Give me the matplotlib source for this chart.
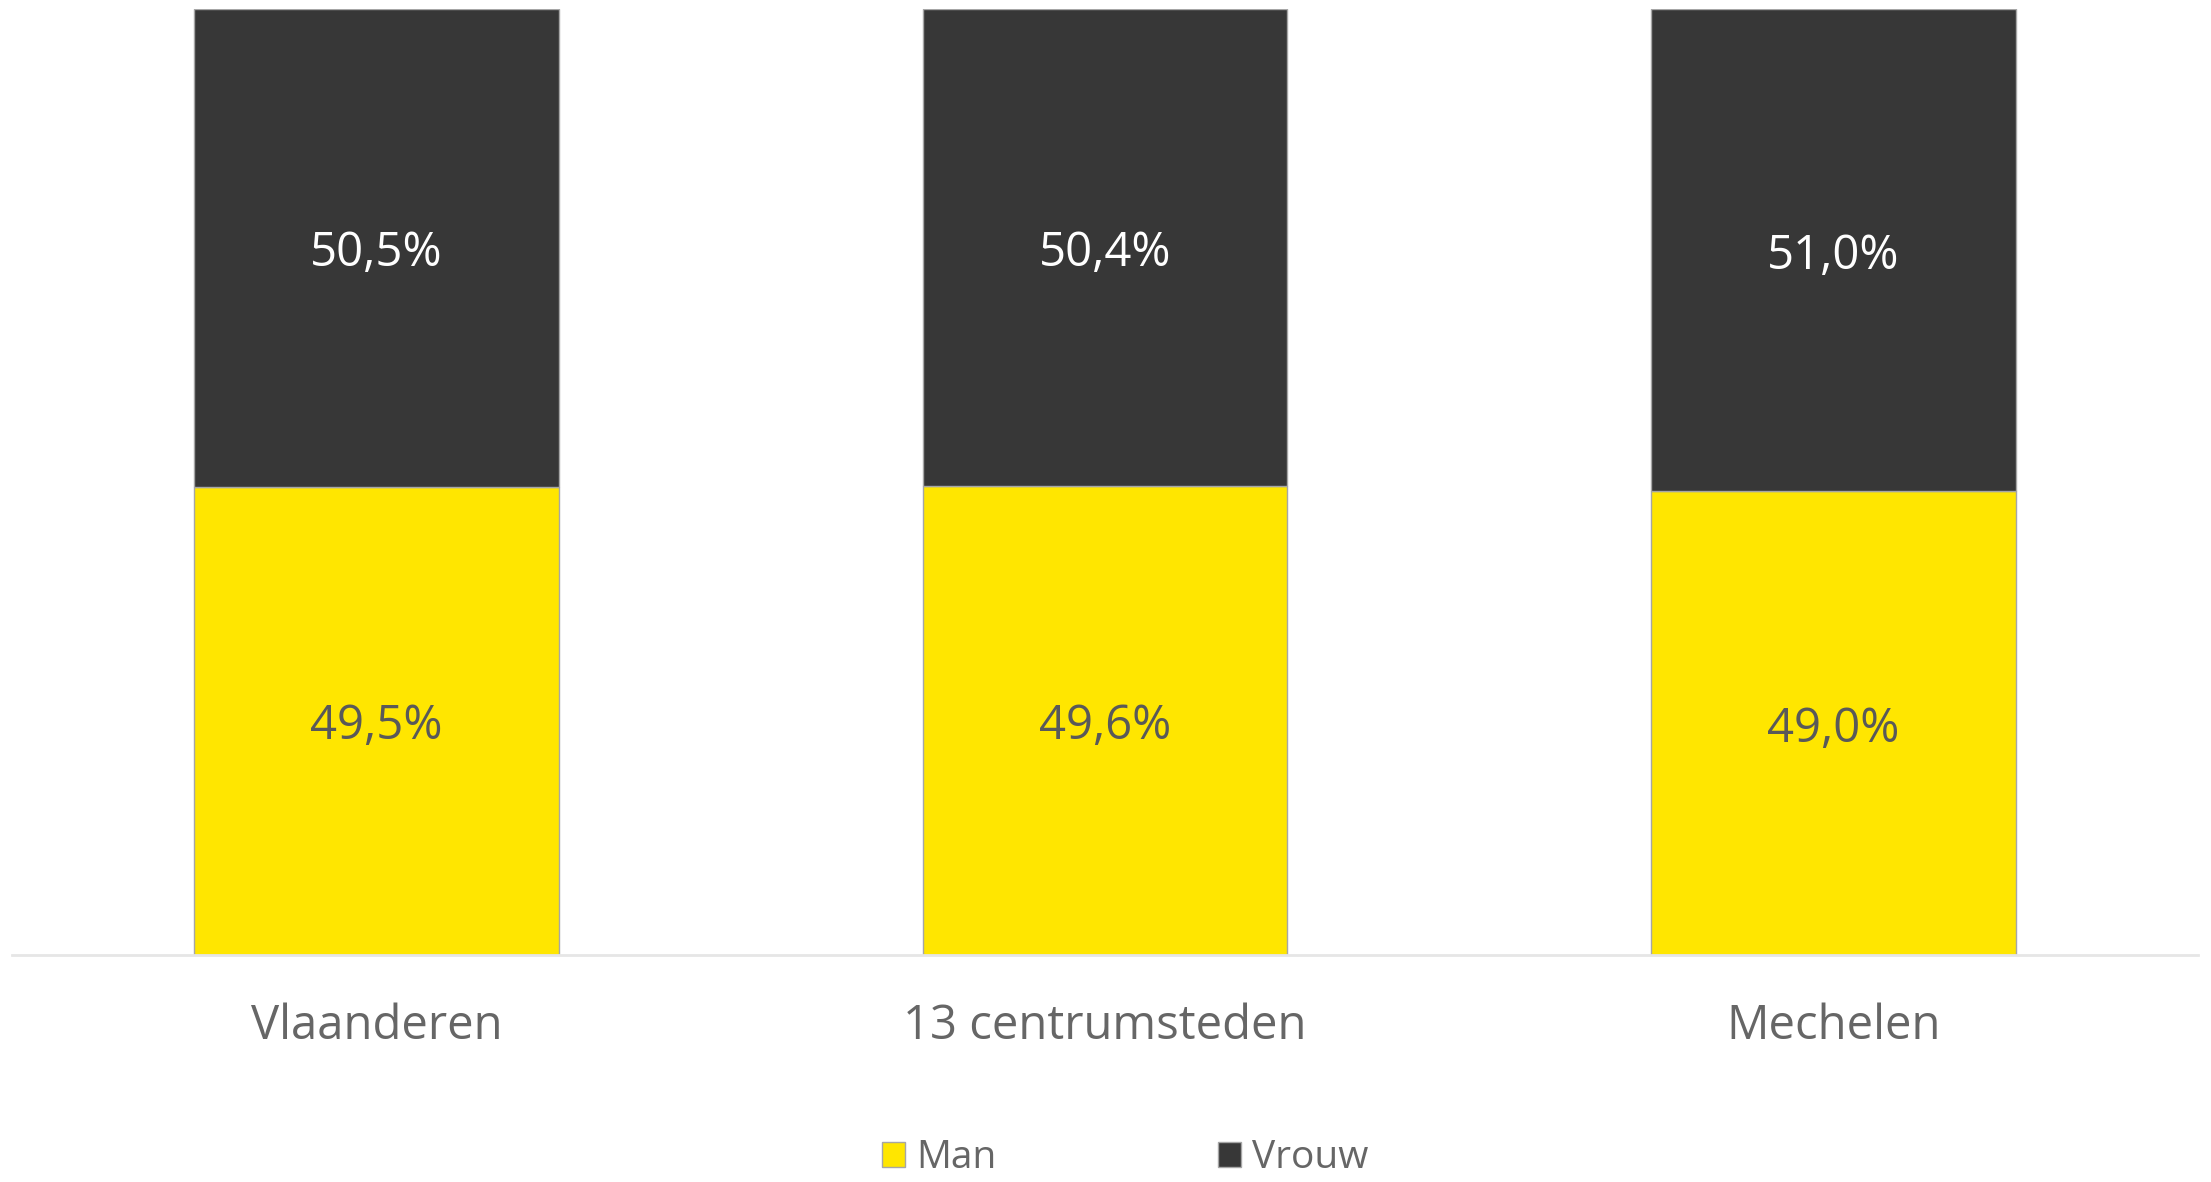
import matplotlib.pyplot as plt
import numpy as np
from matplotlib.patches import Patch

categories = ['Vlaanderen', '13 centrumsteden', 'Mechelen']
man = [49.5, 49.6, 49.0]
vrouw = [50.5, 50.4, 51.0]

plt.rcParams['font.family'] = ['Open Sans', 'DejaVu Sans']

fig = plt.figure(figsize=(22.11, 11.82), dpi=100)
ax = fig.add_axes([12 / 2211, 1 - 955 / 1182, 2186 / 2211, 946 / 1182])

x = np.arange(len(categories))
man_frac = np.array(man) / 100
vrouw_frac = np.array(vrouw) / 100
ax.bar(x, man_frac, width=0.5, color='#FFE600', edgecolor='#A6A6A6', linewidth=1)
ax.bar(x, vrouw_frac, width=0.5, bottom=man_frac, color='#373737', edgecolor='#A6A6A6', linewidth=1)

# labels in the middle of each segment, nudged down a little
for i in range(len(categories)):
    ax.annotate('{:.1f}%'.format(man[i]).replace('.', ','), (x[i], man_frac[i] / 2),
                xytext=(0, -4), textcoords='offset points',
                ha='center', va='center', fontsize=34, color='#595959')
    ax.annotate('{:.1f}%'.format(vrouw[i]).replace('.', ','), (x[i], man_frac[i] + vrouw_frac[i] / 2),
                xytext=(0, -4), textcoords='offset points',
                ha='center', va='center', fontsize=34, color='white')

ax.set_xlim(-0.5, 2.5)
ax.set_ylim(0, 1)
ax.set_yticks([])
ax.set_xticks(x)
ax.set_xticklabels(categories, fontsize=34, color='#666666')
ax.tick_params(axis='x', length=0, pad=34)
for s in ['top', 'right', 'left']:
    ax.spines[s].set_visible(False)
ax.spines['bottom'].set_color('#E6E6E6')
ax.spines['bottom'].set_linewidth(2)

handles = [Patch(facecolor='#FFE600', edgecolor='#A6A6A6', label='Man'),
           Patch(facecolor='#373737', edgecolor='#A6A6A6', label='Vrouw')]
fig.legend(handles=handles, loc='center', bbox_to_anchor=(1125 / 2211, 1 - 1158 / 1182),
           ncol=2, frameon=False, fontsize=28, labelcolor='#666666',
           handlelength=0.59, handleheight=0.59, handletextpad=0.29, columnspacing=5.7)

fig.savefig('out.png', dpi=100)
